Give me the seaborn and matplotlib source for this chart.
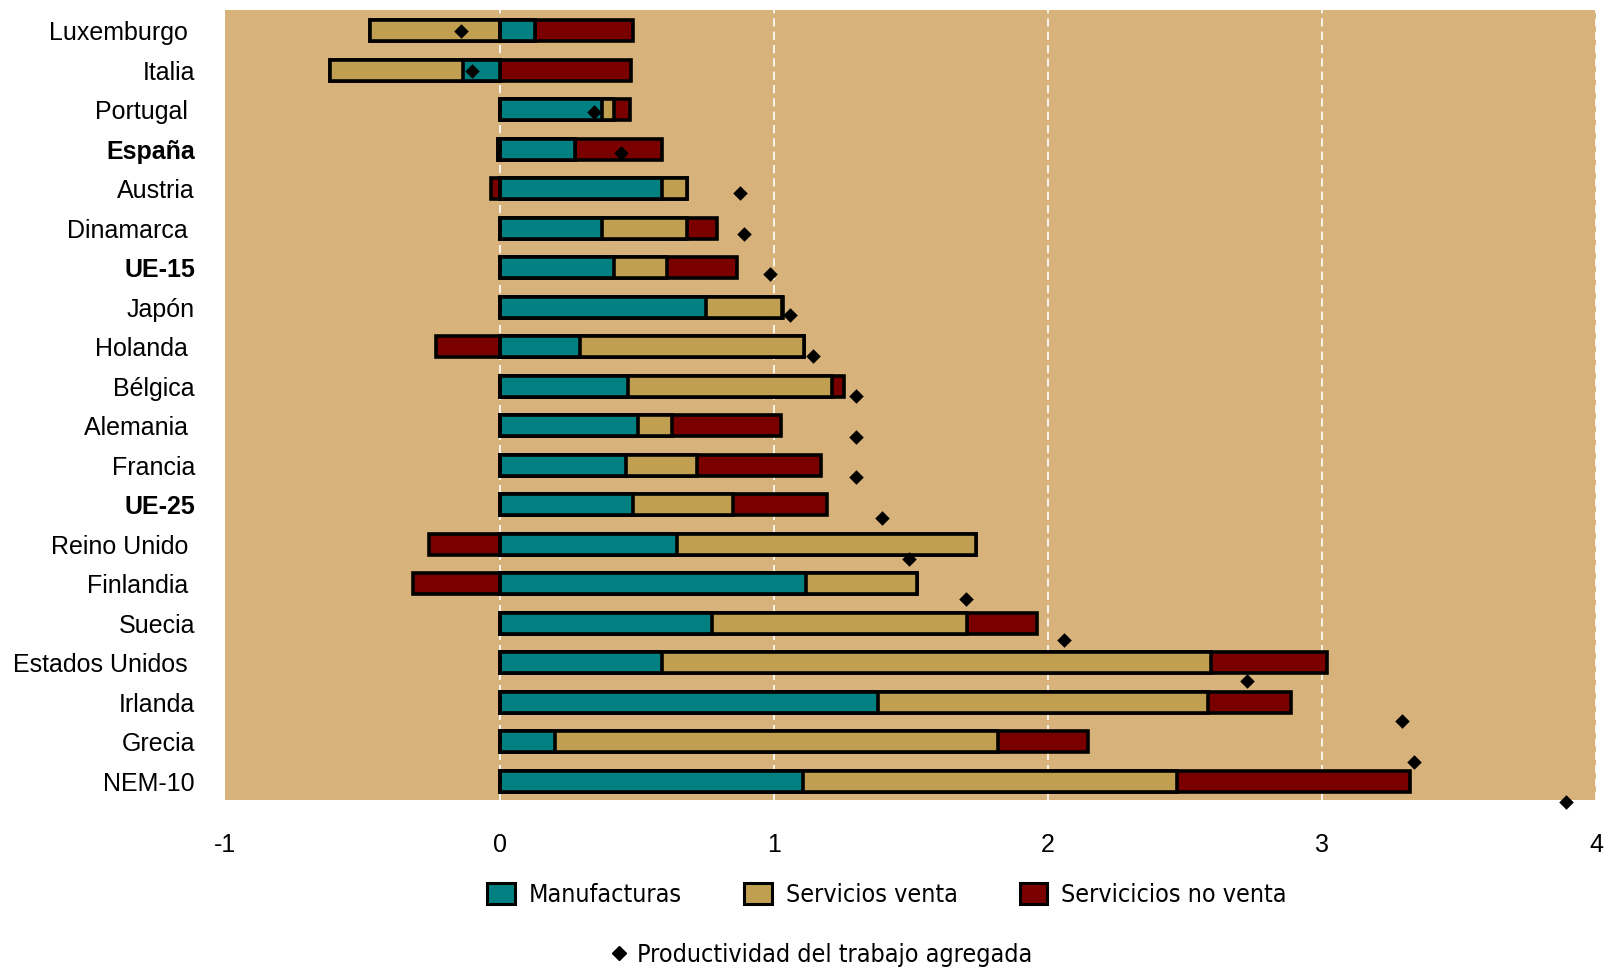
import numpy as np
import pandas as pd
import matplotlib
matplotlib.use("Agg")
import matplotlib.pyplot as plt
from matplotlib.patches import Patch
from matplotlib.lines import Line2D
from matplotlib import font_manager
import seaborn as sns

countries = ["Luxemburgo", "Italia", "Portugal", "España", "Austria", "Dinamarca",
             "UE-15", "Japón", "Holanda", "Bélgica", "Alemania", "Francia", "UE-25",
             "Reino Unido", "Finlandia", "Suecia", "Estados Unidos", "Irlanda",
             "Grecia", "NEM-10"]
country_labels = ["Luxemburgo ", "Italia", "Portugal ", "España", "Austria", "Dinamarca ",
                  "UE-15", "Japón", "Holanda ", "Bélgica", "Alemania ", "Francia", "UE-25",
                  "Reino Unido ", "Finlandia ", "Suecia", "Estados Unidos ", "Irlanda",
                  "Grecia", "NEM-10"]
bold_labels = ["España", "UE-15", "UE-25"]
manufacturas = [0.128, -0.135, 0.372, 0.274, 0.591, 0.372, 0.416, 0.752, 0.295, 0.467,
                0.504, 0.460, 0.486, 0.646, 1.117, 0.776, 0.593, 1.382, 0.201, 1.106]
servicios_venta = [-0.474, -0.482, 0.047, -0.005, 0.093, 0.310, 0.195, 0.277, 0.814, 0.745,
                   0.124, 0.259, 0.365, 1.091, 0.405, 0.928, 2.002, 1.202, 1.617, 1.367]
servicios_no_venta = [0.360, 0.478, 0.055, 0.318, -0.030, 0.110, 0.256, 0.006, -0.231, 0.044,
                      0.398, 0.453, 0.343, -0.259, -0.317, 0.258, 0.423, 0.303, 0.328, 0.850]
productividad = [-0.142, -0.102, 0.343, 0.442, 0.876, 0.891, 0.985, 1.058, 1.143, 1.300,
                 1.300, 1.300, 1.394, 1.493, 1.700, 2.060, 2.728, 3.292, 3.336, 3.890]
legend_labels = ["Manufacturas", "Servicios venta", "Servicicios no venta"]
diamond_label = "Productividad del trabajo agregada"
xticks = [-1, 0, 1, 2, 3, 4]

colors = ["#008080", "#C0A050", "#7A0000"]
bg = "#D7B37B"

sns.set_theme(style="white")
plt.rcParams["font.family"] = ["Liberation Sans", "DejaVu Sans"]
plt.rcParams["text.color"] = "black"
plt.rcParams["xtick.color"] = "black"
plt.rcParams["ytick.color"] = "black"

fig = plt.figure(figsize=(16.07, 9.73), dpi=100)
ax = fig.add_axes([0.1403, 0.1778, 0.9932 - 0.1403, 0.9894 - 0.1778])
ax.set_facecolor(bg)

comps = np.array([manufacturas, servicios_venta, servicios_no_venta])
pos = np.clip(comps, 0, None).cumsum(axis=0)
neg = np.clip(comps, None, 0).cumsum(axis=0)

for k in [2, 1, 0]:
    for ends in (pos[k], neg[k]):
        df = pd.DataFrame({"pais": countries, "valor": ends})
        sns.barplot(data=df, x="valor", y="pais", order=countries, orient="h",
                    color=colors[k], saturation=1, edgecolor="black", linewidth=2.6,
                    width=0.53, ax=ax, zorder=3)

ax.set_xlim(-1, 4)
ax.set_ylim(19.48, -0.517)
ax.set_xticks(xticks)
ax.set_xticklabels([str(t) for t in xticks], fontsize=18, color="black")
ax.set_yticks(range(len(countries)))
ax.set_yticklabels(country_labels, fontsize=18, color="black")
for lab in ax.get_yticklabels():
    if lab.get_text().strip() in bold_labels:
        lab.set_fontweight("bold")
ax.tick_params(axis="y", length=0, pad=22)
ax.tick_params(axis="x", length=0, pad=24)
ax.set_xlabel("")
ax.set_ylabel("")
for s in ax.spines.values():
    s.set_visible(False)
for xv in [0, 1, 2, 3, 4]:
    ax.axvline(xv, color="white", lw=1.2, ls=(0, (5, 3)), zorder=1)

ax2 = ax.twinx()
ddf = pd.DataFrame({"x": productividad, "y": np.arange(len(countries))})
sns.scatterplot(data=ddf, x="x", y="y", marker="D", color="black", s=55,
                linewidth=0, ax=ax2, zorder=5)
for c in ax2.collections:
    c.set_clip_on(False)
ax2.set_ylim(18.94, -0.502)
ax2.set_xlim(-1, 4)
ax2.set_yticks([])
ax2.set_ylabel("")
ax2.set_xlabel("")
for s in ax2.spines.values():
    s.set_visible(False)

# legend font: condensed if available
cond = font_manager.FontProperties(family="DejaVu Sans", stretch="condensed")
path = font_manager.findfont(cond, fallback_to_default=True)
if "Condensed" in path:
    leg_font = font_manager.FontProperties(family="DejaVu Sans", stretch="condensed", size=18)
    colsp = 2.5
else:
    leg_font = font_manager.FontProperties(family="Liberation Sans", size=17)
    colsp = 2.5

handles = [Patch(facecolor=c, edgecolor="black", linewidth=2.2) for c in colors]
fig.legend(handles, legend_labels, loc="center", bbox_to_anchor=(887 / 1607, 1 - 895 / 973),
           ncol=3, frameon=False, prop=leg_font, handlelength=1.1, handleheight=0.9,
           columnspacing=colsp, handletextpad=0.55)
dh = [Line2D([], [], marker="D", color="black", ls="none", markersize=7)]
fig.legend(dh, [diamond_label], loc="center", bbox_to_anchor=(822 / 1607, 1 - 955 / 973),
           frameon=False, prop=leg_font, handlelength=0.6, handletextpad=0.4)

fig.savefig("out.png", dpi=100, facecolor="white")
